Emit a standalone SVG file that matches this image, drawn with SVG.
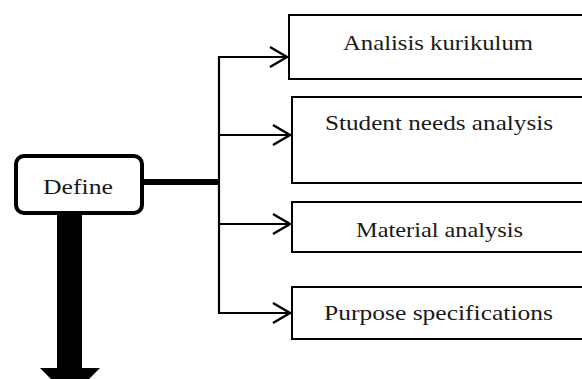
<svg xmlns="http://www.w3.org/2000/svg" width="582" height="379" viewBox="0 0 582 379">
<style>
.box{fill:#fff;stroke:#000;stroke-width:2}
.lbl{font-family:"Liberation Serif","DejaVu Serif",serif;font-size:22px;fill:#1a1a1a}
.con{fill:none;stroke:#000;stroke-width:2.2}
</style>
<defs>
<marker id="open" viewBox="0 0 20 24" refX="18" refY="12" markerWidth="20" markerHeight="24" markerUnits="userSpaceOnUse" orient="auto">
<path d="M1,2 L18,12 L1,22" fill="none" stroke="#000" stroke-width="2.4"/>
</marker>
</defs>
<rect width="582" height="379" fill="#fff"/>
<g id="connectors">
<line x1="143" y1="182" x2="220" y2="182" stroke="#000" stroke-width="6"/>
<line x1="219" y1="56" x2="219" y2="314" class="con"/>
<line x1="218" y1="57" x2="287" y2="57" class="con" marker-end="url(#open)"/>
<line x1="218" y1="135" x2="290" y2="135" class="con" marker-end="url(#open)"/>
<line x1="218" y1="224" x2="290" y2="224" class="con" marker-end="url(#open)"/>
<line x1="218" y1="313" x2="290" y2="313" class="con" marker-end="url(#open)"/>
<polygon points="57,214 82,214 82,368 100,368 70,398 40,368 57,368" fill="#000"/>
</g>
<g id="define">
<rect x="16" y="156" width="126" height="57" rx="8" ry="8" fill="#fff" stroke="#000" stroke-width="4"/>
<text x="43" y="194" class="lbl" textLength="70" lengthAdjust="spacingAndGlyphs">Define</text>
</g>
<g id="analisis-kurikulum">
<rect x="289" y="15" width="310" height="64" class="box"/>
<text x="343" y="50" class="lbl" textLength="190" lengthAdjust="spacingAndGlyphs">Analisis kurikulum</text>
</g>
<g id="student-needs">
<rect x="292" y="97" width="310" height="86" class="box"/>
<text x="325" y="130" class="lbl" textLength="228" lengthAdjust="spacingAndGlyphs">Student needs analysis</text>
</g>
<g id="material-analysis">
<rect x="292" y="202" width="310" height="50" class="box"/>
<text x="356" y="237" class="lbl" textLength="167" lengthAdjust="spacingAndGlyphs">Material analysis</text>
</g>
<g id="purpose-specifications">
<rect x="292" y="287" width="310" height="52" class="box"/>
<text x="324" y="320" class="lbl" textLength="229" lengthAdjust="spacingAndGlyphs">Purpose specifications</text>
</g>
</svg>
